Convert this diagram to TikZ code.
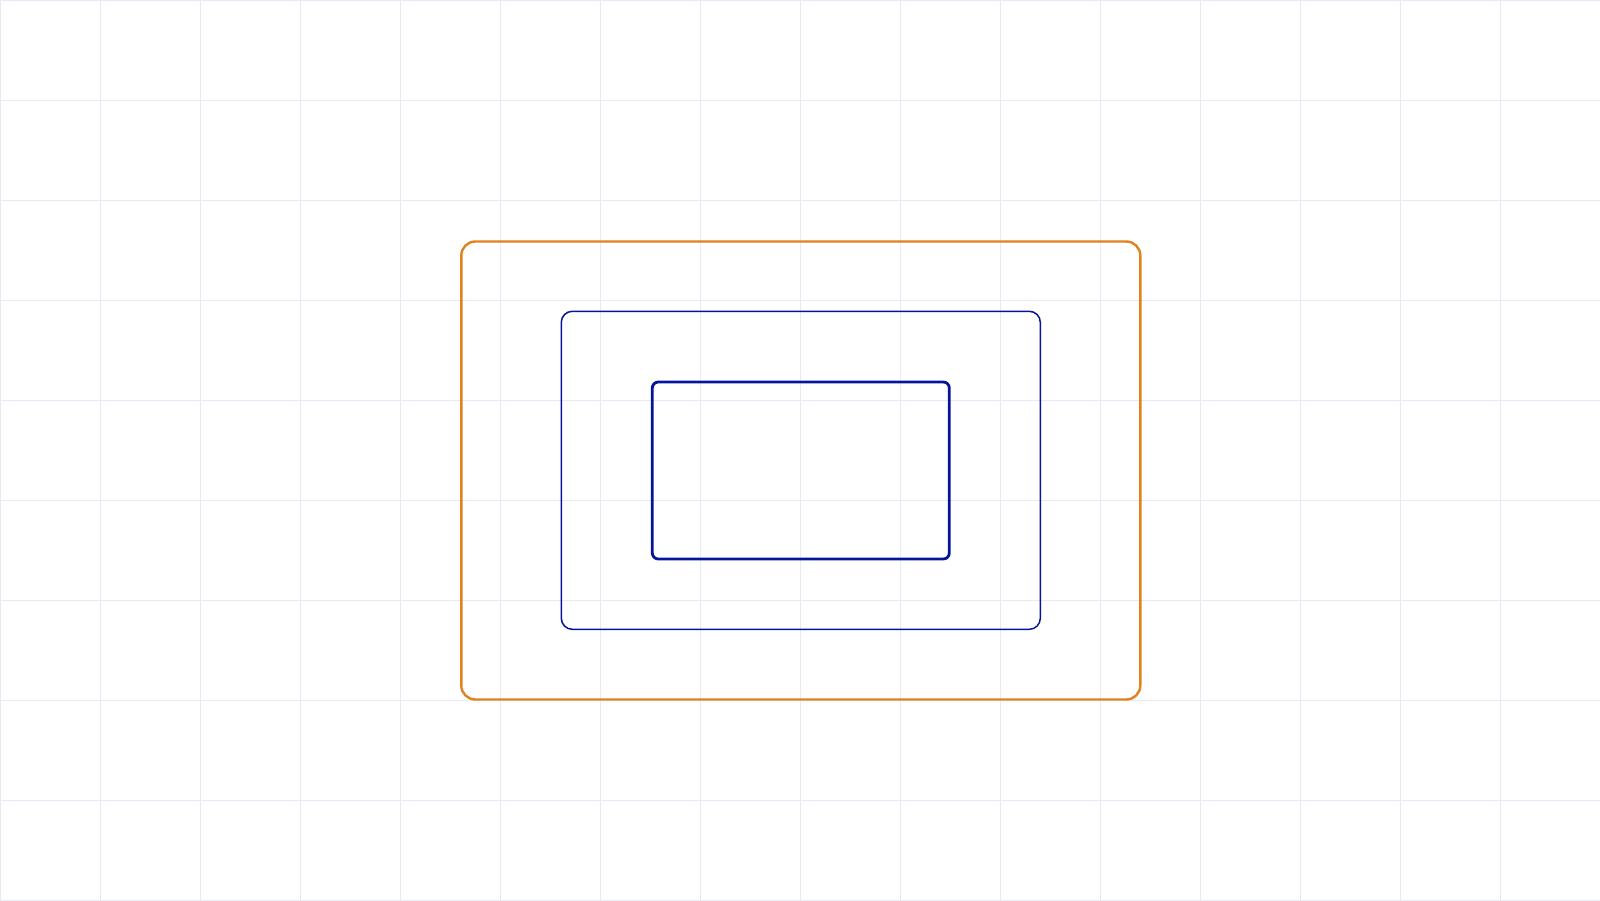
\documentclass[tikz,border=0pt]{standalone}
\definecolor{gridc}{RGB}{232,232,246}
\definecolor{orangec}{RGB}{224,130,32}
\definecolor{bluec}{RGB}{5,20,155}
\tikzset{
  box/.style={draw, inner sep=0pt, rounded corners=#1},
}
\begin{document}
\begin{tikzpicture}[x=1pt,y=-1pt]
\useasboundingbox (0,0) rectangle (1600,900);
\fill[white] (0,0) rectangle (1600,900);
\foreach \i in {0,100,...,1600} \draw[gridc, line width=1pt] (\i,0) -- (\i,900);
\foreach \j in {0,100,...,900} \draw[gridc, line width=1pt] (0,\j) -- (1600,\j);
\node[box=14pt, draw=orangec, line width=2.4pt, minimum width=679pt, minimum height=458pt] (outer) at (800.8,470.5) {};
\node[box=11pt, draw=bluec, line width=1.5pt, minimum width=479pt, minimum height=318pt] (mid) at (800.8,470.3) {};
\node[box=6pt, draw=bluec, line width=2.8pt, minimum width=297pt, minimum height=177pt] (inner) at (800.8,470.5) {};
\end{tikzpicture}
\end{document}
